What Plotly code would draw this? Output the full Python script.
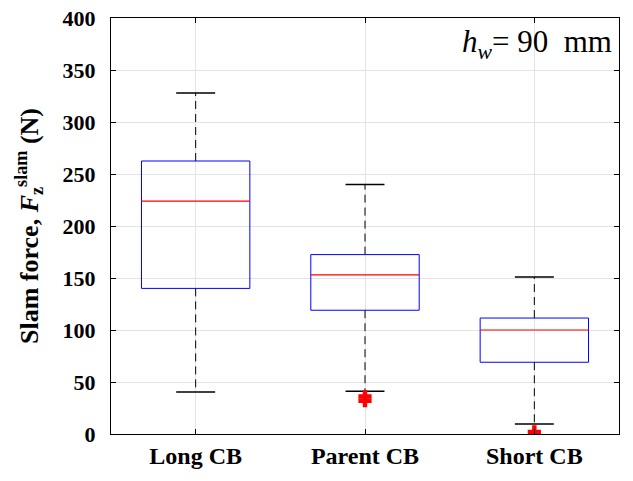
import plotly.graph_objects as go

categories = ["Long CB", "Parent CB", "Short CB"]
q1 = [140, 119, 69]
median = [224, 153, 100]
q3 = [262.5, 172.5, 111.5]
lower_whisker = [40.5, 41, 9.5]
upper_whisker = [328, 240, 151]
outliers = [[], [32, 36], [2]]
y_ticks = [0, 50, 100, 150, 200, 250, 300, 350, 400]

BOX_HALF = 0.32
CAP_HALF = 0.115

fig = go.Figure()
for i, cat in enumerate(categories):
    x = i + 1
    # whiskers (dashed)
    fig.add_trace(go.Scatter(x=[x, x, None, x, x], y=[q3[i], upper_whisker[i], None, q1[i], lower_whisker[i]],
                             mode="lines", line=dict(color="black", width=1, dash="8px,5px"),
                             showlegend=False, hoverinfo="skip"))
    # caps
    fig.add_trace(go.Scatter(x=[x - CAP_HALF, x + CAP_HALF, None, x - CAP_HALF, x + CAP_HALF],
                             y=[upper_whisker[i], upper_whisker[i], None, lower_whisker[i], lower_whisker[i]],
                             mode="lines", line=dict(color="black", width=1.5),
                             showlegend=False, hoverinfo="skip"))
    # box
    fig.add_trace(go.Scatter(x=[x - BOX_HALF, x + BOX_HALF, x + BOX_HALF, x - BOX_HALF, x - BOX_HALF],
                             y=[q1[i], q1[i], q3[i], q3[i], q1[i]],
                             mode="lines", line=dict(color="blue", width=1),
                             showlegend=False, hoverinfo="skip"))
    # median
    fig.add_trace(go.Scatter(x=[x - BOX_HALF, x + BOX_HALF], y=[median[i], median[i]],
                             mode="lines", line=dict(color="red", width=1.2),
                             showlegend=False, hoverinfo="skip"))
    if outliers[i]:
        fig.add_trace(go.Scatter(x=[x] * len(outliers[i]), y=outliers[i], mode="markers",
                                 marker=dict(symbol="cross", size=11, color="red", line=dict(width=0)),
                                 showlegend=False, hoverinfo="skip"))

fig.update_layout(
    width=633, height=481,
    margin=dict(l=111, r=14, t=18, b=47),
    paper_bgcolor="white", plot_bgcolor="white",
    xaxis=dict(range=[0.5, 3.5], tickvals=[1, 2, 3], ticktext=["<b>%s</b>" % c for c in categories],
               showgrid=True, gridcolor="#e3e3e3", gridwidth=1, zeroline=False, automargin=False,
               showline=True, linecolor="black", linewidth=1, mirror="ticks",
               ticks="inside", ticklen=5, tickcolor="black", ticklabeloverflow="allow",
               tickfont=dict(family="Liberation Serif", size=24, color="black")),
    yaxis=dict(range=[0, 400], tickvals=y_ticks, ticktext=["<b>%d</b>" % v for v in y_ticks],
               showgrid=True, gridcolor="#e3e3e3", gridwidth=1, zeroline=False, automargin=False,
               showline=True, linecolor="black", linewidth=1, mirror="ticks",
               ticks="inside", ticklen=5, tickcolor="black", ticklabeloverflow="allow",
               ticklabelstandoff=10,
               tickfont=dict(family="Liberation Serif", size=22, color="black"),
               title=dict(text="<b>Slam force, <i>F</i><sub>z</sub><sup>slam</sup> (N)</b>",
                          font=dict(family="Liberation Serif", size=26, color="black"), standoff=16)),
    annotations=[dict(x=0.99, y=0.99, xref="paper", yref="paper", xanchor="right", yanchor="top",
                      text="<i>h</i><sub><i>w</i></sub>= 90  mm", showarrow=False,
                      font=dict(family="Liberation Serif", size=31, color="black"))],
)
fig.write_html("out.html", config={"displayModeBar": False},
               post_script="document.body.style.margin='0';document.body.style.overflow='hidden';")
